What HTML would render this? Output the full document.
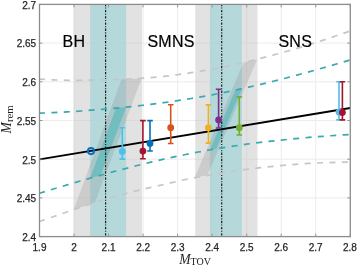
<!DOCTYPE html>
<html><head><meta charset="utf-8"><style>
html,body{margin:0;padding:0;background:#fff;}
svg{display:block;}
.tk{font-family:"Liberation Sans",sans-serif;font-size:10px;fill:#262626;stroke:#262626;stroke-width:0.25px;}
.big{font-family:"Liberation Sans",sans-serif;font-size:16px;fill:#000;stroke:#000;stroke-width:0.2px;letter-spacing:0.3px;}
.ml{font-family:"Liberation Serif",serif;font-size:13.6px;fill:#1e1e1e;}
.sub{font-size:10px;font-style:normal;}
.sub2{font-size:10.8px;font-style:normal;}
</style></head><body>
<svg width="357" height="267" viewBox="0 0 357 267">
<rect width="357" height="267" fill="#fff"/>
<path d="M74.03,4.4 V236.60 M108.56,4.4 V236.60 M143.09,4.4 V236.60 M177.62,4.4 V236.60 M212.15,4.4 V236.60 M246.68,4.4 V236.60 M281.21,4.4 V236.60 M315.74,4.4 V236.60 M39.5,197.90 H350.27 M39.5,159.20 H350.27 M39.5,120.50 H350.27 M39.5,81.80 H350.27 M39.5,43.10 H350.27" stroke="#ececec" stroke-width="1" fill="none"/>
<rect x="73.68" y="4.4" width="68.30" height="232.20" fill="#c1c1c1" fill-opacity="0.47"/>
<rect x="90.16" y="4.4" width="35.95" height="232.20" fill="#add7d9" fill-opacity="0.85"/>
<rect x="195.26" y="4.4" width="62.19" height="232.20" fill="#c1c1c1" fill-opacity="0.47"/>
<rect x="209.91" y="4.4" width="32.04" height="232.20" fill="#add7d9" fill-opacity="0.85"/>
<path d="M73.69,209.68 L74.01,208.82 L74.32,207.96 L74.64,207.10 L74.95,206.24 L75.27,205.39 L75.58,204.53 L75.90,203.67 L76.21,202.81 L76.53,201.95 L76.84,201.09 L77.15,200.23 L77.47,199.37 L77.78,198.51 L78.10,197.65 L78.41,196.79 L78.73,195.94 L79.04,195.08 L79.36,194.22 L79.67,193.36 L79.99,192.50 L80.30,191.64 L80.62,190.78 L80.93,189.92 L81.25,189.06 L81.56,188.20 L81.87,187.34 L82.19,186.49 L82.50,185.63 L82.82,184.77 L83.13,183.91 L83.45,183.05 L83.76,182.19 L84.08,181.33 L84.39,180.47 L84.71,179.61 L85.02,178.75 L85.34,177.89 L85.65,177.04 L85.97,176.18 L86.28,175.32 L86.59,174.46 L86.91,173.60 L87.22,172.74 L87.54,171.88 L87.85,171.02 L88.17,170.16 L88.48,169.30 L88.80,168.44 L89.11,167.59 L89.43,166.73 L89.74,165.87 L90.06,165.01 L90.37,164.15 L90.69,163.29 L91.00,162.43 L91.31,161.57 L91.63,160.71 L91.94,159.85 L92.26,158.99 L92.57,158.14 L92.89,157.28 L93.20,156.42 L93.52,155.56 L93.83,154.70 L94.15,153.84 L94.46,152.98 L94.78,152.12 L95.09,151.26 L95.41,150.40 L95.72,149.54 L96.03,148.69 L96.35,147.83 L96.66,146.97 L96.98,146.11 L97.29,145.25 L97.61,144.39 L97.92,143.53 L98.24,142.67 L98.55,141.81 L98.87,140.95 L99.18,140.09 L99.50,139.24 L99.81,138.38 L100.13,137.52 L100.44,136.66 L100.75,135.80 L101.07,134.94 L101.38,134.08 L101.70,133.22 L102.01,132.36 L102.33,131.50 L102.64,130.64 L102.96,129.79 L103.27,128.93 L103.59,128.07 L103.90,127.21 L104.22,126.35 L104.53,125.49 L104.85,124.63 L105.16,123.77 L105.47,122.91 L105.79,122.05 L106.10,121.19 L106.42,120.33 L106.73,119.48 L107.05,118.62 L107.36,117.76 L107.68,116.90 L107.99,116.04 L108.31,115.18 L108.62,114.32 L108.94,113.46 L109.25,112.60 L109.57,111.74 L109.88,110.88 L110.19,110.03 L110.51,109.17 L110.82,108.31 L111.14,107.45 L111.45,106.59 L111.77,105.73 L112.08,104.87 L112.40,104.01 L112.71,103.15 L113.03,102.29 L113.34,101.43 L113.66,100.58 L113.97,99.72 L114.29,98.86 L114.60,98.00 L114.91,97.14 L115.23,96.28 L115.54,95.42 L115.86,94.56 L116.17,93.70 L116.49,92.84 L116.80,91.98 L117.12,91.13 L117.43,90.27 L117.75,89.41 L118.06,88.55 L118.38,87.69 L118.69,86.83 L119.01,85.97 L119.32,85.11 L119.64,84.25 L119.95,83.39 L120.26,82.53 L120.58,81.68 L120.89,80.82 L121.21,79.96 L121.52,79.36 L121.84,79.34 L122.15,79.33 L122.47,79.32 L122.78,79.30 L123.10,79.29 L123.41,79.28 L123.73,79.26 L124.04,79.25 L124.36,79.24 L124.67,79.22 L124.98,79.21 L125.30,79.20 L125.61,79.18 L125.93,79.17 L126.24,79.16 L126.56,79.14 L126.87,79.13 L127.19,79.11 L127.50,79.10 L127.82,79.08 L128.13,79.07 L128.45,79.05 L128.76,79.04 L129.08,79.02 L129.39,79.01 L129.70,78.99 L130.02,78.98 L130.33,78.96 L130.65,78.95 L130.96,78.93 L131.28,78.91 L131.59,78.90 L131.91,78.88 L132.22,78.86 L132.54,78.85 L132.85,78.83 L133.17,78.81 L133.48,78.80 L133.80,78.78 L134.11,78.76 L134.42,78.75 L134.74,78.73 L135.05,78.71 L135.37,78.69 L135.68,78.68 L136.00,78.66 L136.31,78.64 L136.63,78.62 L136.94,78.60 L137.26,78.58 L137.57,78.56 L137.89,78.55 L138.20,78.53 L138.52,78.51 L138.83,78.49 L139.14,78.47 L139.46,78.45 L139.77,78.43 L140.09,78.41 L140.40,78.39 L140.72,78.37 L141.03,78.35 L141.35,78.33 L141.66,78.31 L141.66,78.33 L141.35,79.17 L141.03,80.01 L140.72,80.84 L140.40,81.68 L140.09,82.51 L139.77,83.35 L139.46,84.19 L139.14,85.02 L138.83,85.86 L138.52,86.70 L138.20,87.53 L137.89,88.37 L137.57,89.21 L137.26,90.04 L136.94,90.88 L136.63,91.72 L136.31,92.55 L136.00,93.39 L135.68,94.23 L135.37,95.06 L135.05,95.90 L134.74,96.74 L134.42,97.57 L134.11,98.41 L133.80,99.25 L133.48,100.08 L133.17,100.92 L132.85,101.76 L132.54,102.59 L132.22,103.43 L131.91,104.27 L131.59,105.10 L131.28,105.94 L130.96,106.78 L130.65,107.61 L130.33,108.45 L130.02,109.29 L129.70,110.12 L129.39,110.96 L129.08,111.80 L128.76,112.63 L128.45,113.47 L128.13,114.31 L127.82,115.14 L127.50,115.98 L127.19,116.82 L126.87,117.65 L126.56,118.49 L126.24,119.33 L125.93,120.16 L125.61,121.00 L125.30,121.83 L124.98,122.67 L124.67,123.51 L124.36,124.34 L124.04,125.18 L123.73,126.02 L123.41,126.85 L123.10,127.69 L122.78,128.53 L122.47,129.36 L122.15,130.20 L121.84,131.04 L121.52,131.87 L121.21,132.71 L120.89,133.55 L120.58,134.38 L120.26,135.22 L119.95,136.06 L119.64,136.89 L119.32,137.73 L119.01,138.57 L118.69,139.40 L118.38,140.24 L118.06,141.08 L117.75,141.91 L117.43,142.75 L117.12,143.59 L116.80,144.42 L116.49,145.26 L116.17,146.10 L115.86,146.93 L115.54,147.77 L115.23,148.61 L114.91,149.44 L114.60,150.28 L114.29,151.12 L113.97,151.95 L113.66,152.79 L113.34,153.63 L113.03,154.46 L112.71,155.30 L112.40,156.14 L112.08,156.97 L111.77,157.81 L111.45,158.65 L111.14,159.48 L110.82,160.32 L110.51,161.16 L110.19,161.99 L109.88,162.83 L109.57,163.66 L109.25,164.50 L108.94,165.34 L108.62,166.17 L108.31,167.01 L107.99,167.85 L107.68,168.68 L107.36,169.52 L107.05,170.36 L106.73,171.19 L106.42,172.03 L106.10,172.87 L105.79,173.70 L105.47,174.54 L105.16,175.38 L104.85,176.21 L104.53,177.05 L104.22,177.89 L103.90,178.72 L103.59,179.56 L103.27,180.40 L102.96,181.23 L102.64,182.07 L102.33,182.91 L102.01,183.74 L101.70,184.58 L101.38,185.42 L101.07,186.25 L100.75,187.09 L100.44,187.93 L100.13,188.76 L99.81,189.60 L99.50,190.44 L99.18,191.27 L98.87,192.11 L98.55,192.95 L98.24,193.78 L97.92,194.62 L97.61,195.46 L97.29,196.29 L96.98,197.13 L96.66,197.97 L96.35,198.80 L96.03,199.64 L95.72,200.48 L95.41,201.31 L95.09,202.15 L94.78,202.55 L94.46,202.66 L94.15,202.76 L93.83,202.86 L93.52,202.97 L93.20,203.07 L92.89,203.17 L92.57,203.28 L92.26,203.38 L91.94,203.49 L91.63,203.59 L91.31,203.69 L91.00,203.80 L90.69,203.90 L90.37,204.01 L90.06,204.11 L89.74,204.22 L89.43,204.32 L89.11,204.43 L88.80,204.54 L88.48,204.64 L88.17,204.75 L87.85,204.85 L87.54,204.96 L87.22,205.07 L86.91,205.17 L86.59,205.28 L86.28,205.38 L85.97,205.49 L85.65,205.60 L85.34,205.70 L85.02,205.81 L84.71,205.92 L84.39,206.03 L84.08,206.13 L83.76,206.24 L83.45,206.35 L83.13,206.45 L82.82,206.56 L82.50,206.67 L82.19,206.78 L81.87,206.88 L81.56,206.99 L81.25,207.10 L80.93,207.21 L80.62,207.32 L80.30,207.42 L79.99,207.53 L79.67,207.64 L79.36,207.75 L79.04,207.85 L78.73,207.96 L78.41,208.07 L78.10,208.18 L77.78,208.29 L77.47,208.40 L77.15,208.50 L76.84,208.61 L76.53,208.72 L76.21,208.83 L75.90,208.94 L75.58,209.04 L75.27,209.15 L74.95,209.26 L74.64,209.37 L74.32,209.48 L74.01,209.58 L73.69,209.69Z" fill="#808080" fill-opacity="0.22"/>
<path d="M90.29,177.83 L90.47,177.34 L90.65,176.86 L90.83,176.37 L91.01,175.88 L91.18,175.40 L91.36,174.91 L91.54,174.43 L91.72,173.94 L91.90,173.45 L92.08,172.97 L92.26,172.48 L92.44,171.99 L92.62,171.51 L92.80,171.02 L92.98,170.54 L93.16,170.05 L93.34,169.56 L93.52,169.08 L93.70,168.59 L93.87,168.11 L94.05,167.62 L94.23,167.13 L94.41,166.65 L94.59,166.16 L94.77,165.68 L94.95,165.19 L95.13,164.70 L95.31,164.22 L95.49,163.73 L95.67,163.25 L95.85,162.76 L96.03,162.27 L96.21,161.79 L96.38,161.30 L96.56,160.81 L96.74,160.33 L96.92,159.84 L97.10,159.36 L97.28,158.87 L97.46,158.38 L97.64,157.90 L97.82,157.41 L98.00,156.93 L98.18,156.44 L98.36,155.95 L98.54,155.47 L98.72,154.98 L98.89,154.50 L99.07,154.01 L99.25,153.52 L99.43,153.04 L99.61,152.55 L99.79,152.07 L99.97,151.58 L100.15,151.09 L100.33,150.61 L100.51,150.12 L100.69,149.63 L100.87,149.15 L101.05,148.66 L101.23,148.18 L101.40,147.69 L101.58,147.20 L101.76,146.72 L101.94,146.23 L102.12,145.75 L102.30,145.26 L102.48,144.77 L102.66,144.29 L102.84,143.80 L103.02,143.32 L103.20,142.83 L103.38,142.34 L103.56,141.86 L103.74,141.37 L103.91,140.89 L104.09,140.40 L104.27,139.91 L104.45,139.43 L104.63,138.94 L104.81,138.45 L104.99,137.97 L105.17,137.48 L105.35,137.00 L105.53,136.51 L105.71,136.02 L105.89,135.54 L106.07,135.05 L106.25,134.57 L106.43,134.08 L106.60,133.59 L106.78,133.11 L106.96,132.62 L107.14,132.14 L107.32,131.65 L107.50,131.16 L107.68,130.68 L107.86,130.19 L108.04,129.71 L108.22,129.22 L108.40,128.73 L108.58,128.25 L108.76,127.76 L108.94,127.27 L109.11,126.79 L109.29,126.30 L109.47,125.82 L109.65,125.33 L109.83,124.84 L110.01,124.36 L110.19,123.87 L110.37,123.39 L110.55,122.90 L110.73,122.41 L110.91,121.93 L111.09,121.44 L111.27,120.96 L111.45,120.47 L111.62,119.98 L111.80,119.50 L111.98,119.01 L112.16,118.52 L112.34,118.04 L112.52,117.55 L112.70,117.07 L112.88,116.58 L113.06,116.09 L113.24,115.61 L113.42,115.12 L113.60,114.64 L113.78,114.15 L113.96,113.66 L114.13,113.18 L114.31,112.69 L114.49,112.21 L114.67,111.72 L114.85,111.23 L115.03,110.75 L115.21,110.26 L115.39,109.78 L115.57,109.29 L115.75,108.80 L115.93,108.32 L116.11,108.09 L116.29,108.08 L116.47,108.06 L116.64,108.04 L116.82,108.03 L117.00,108.01 L117.18,107.99 L117.36,107.97 L117.54,107.96 L117.72,107.94 L117.90,107.92 L118.08,107.91 L118.26,107.89 L118.44,107.87 L118.62,107.85 L118.80,107.84 L118.98,107.82 L119.16,107.80 L119.33,107.78 L119.51,107.77 L119.69,107.75 L119.87,107.73 L120.05,107.71 L120.23,107.70 L120.41,107.68 L120.59,107.66 L120.77,107.64 L120.95,107.63 L121.13,107.61 L121.31,107.59 L121.49,107.57 L121.67,107.56 L121.84,107.54 L122.02,107.52 L122.20,107.50 L122.38,107.48 L122.56,107.47 L122.74,107.45 L122.92,107.43 L123.10,107.41 L123.28,107.40 L123.46,107.38 L123.64,107.36 L123.82,107.34 L124.00,107.32 L124.18,107.31 L124.35,107.29 L124.53,107.27 L124.71,107.25 L124.89,107.23 L125.07,107.21 L125.25,107.20 L125.43,107.18 L125.61,107.16 L125.79,107.14 L125.97,107.12 L125.97,107.47 L125.79,107.94 L125.61,108.42 L125.43,108.90 L125.25,109.38 L125.07,109.86 L124.89,110.34 L124.71,110.82 L124.53,111.30 L124.35,111.78 L124.18,112.26 L124.00,112.74 L123.82,113.22 L123.64,113.70 L123.46,114.18 L123.28,114.66 L123.10,115.14 L122.92,115.62 L122.74,116.10 L122.56,116.58 L122.38,117.06 L122.20,117.54 L122.02,118.02 L121.84,118.50 L121.67,118.98 L121.49,119.46 L121.31,119.94 L121.13,120.42 L120.95,120.90 L120.77,121.38 L120.59,121.86 L120.41,122.34 L120.23,122.82 L120.05,123.30 L119.87,123.78 L119.69,124.26 L119.51,124.74 L119.33,125.22 L119.16,125.69 L118.98,126.17 L118.80,126.65 L118.62,127.13 L118.44,127.61 L118.26,128.09 L118.08,128.57 L117.90,129.05 L117.72,129.53 L117.54,130.01 L117.36,130.49 L117.18,130.97 L117.00,131.45 L116.82,131.93 L116.64,132.41 L116.47,132.89 L116.29,133.37 L116.11,133.85 L115.93,134.33 L115.75,134.81 L115.57,135.29 L115.39,135.77 L115.21,136.25 L115.03,136.73 L114.85,137.21 L114.67,137.69 L114.49,138.17 L114.31,138.65 L114.13,139.13 L113.96,139.61 L113.78,140.09 L113.60,140.57 L113.42,141.05 L113.24,141.53 L113.06,142.01 L112.88,142.49 L112.70,142.96 L112.52,143.44 L112.34,143.92 L112.16,144.40 L111.98,144.88 L111.80,145.36 L111.62,145.84 L111.45,146.32 L111.27,146.80 L111.09,147.28 L110.91,147.76 L110.73,148.24 L110.55,148.72 L110.37,149.20 L110.19,149.68 L110.01,150.16 L109.83,150.64 L109.65,151.12 L109.47,151.60 L109.29,152.08 L109.11,152.56 L108.94,153.04 L108.76,153.52 L108.58,154.00 L108.40,154.48 L108.22,154.96 L108.04,155.44 L107.86,155.92 L107.68,156.40 L107.50,156.88 L107.32,157.36 L107.14,157.84 L106.96,158.32 L106.78,158.80 L106.60,159.28 L106.43,159.76 L106.25,160.23 L106.07,160.71 L105.89,161.19 L105.71,161.67 L105.53,162.15 L105.35,162.63 L105.17,163.11 L104.99,163.59 L104.81,164.07 L104.63,164.55 L104.45,165.03 L104.27,165.51 L104.09,165.99 L103.91,166.47 L103.74,166.95 L103.56,167.43 L103.38,167.91 L103.20,168.39 L103.02,168.87 L102.84,169.35 L102.66,169.83 L102.48,170.31 L102.30,170.79 L102.12,171.27 L101.94,171.75 L101.76,172.23 L101.58,172.71 L101.40,173.19 L101.23,173.67 L101.05,174.15 L100.87,174.63 L100.69,175.11 L100.51,175.27 L100.33,175.32 L100.15,175.37 L99.97,175.42 L99.79,175.47 L99.61,175.52 L99.43,175.57 L99.25,175.62 L99.07,175.67 L98.89,175.72 L98.72,175.77 L98.54,175.82 L98.36,175.87 L98.18,175.92 L98.00,175.97 L97.82,176.03 L97.64,176.08 L97.46,176.13 L97.28,176.18 L97.10,176.23 L96.92,176.28 L96.74,176.33 L96.56,176.38 L96.38,176.43 L96.21,176.48 L96.03,176.53 L95.85,176.58 L95.67,176.63 L95.49,176.68 L95.31,176.73 L95.13,176.78 L94.95,176.83 L94.77,176.88 L94.59,176.93 L94.41,176.98 L94.23,177.03 L94.05,177.08 L93.87,177.13 L93.70,177.18 L93.52,177.24 L93.34,177.29 L93.16,177.34 L92.98,177.39 L92.80,177.44 L92.62,177.49 L92.44,177.54 L92.26,177.59 L92.08,177.64 L91.90,177.69 L91.72,177.74 L91.54,177.79 L91.36,177.84 L91.18,177.90 L91.01,177.95 L90.83,178.00 L90.65,178.05 L90.47,178.10 L90.29,178.15Z" fill="#33b5b5" fill-opacity="0.46"/>
<path d="M194.70,177.63 L194.99,176.95 L195.28,176.27 L195.57,175.58 L195.86,174.90 L196.15,174.22 L196.44,173.53 L196.73,172.85 L197.02,172.17 L197.30,171.48 L197.59,170.80 L197.88,170.12 L198.17,169.44 L198.46,168.75 L198.75,168.07 L199.04,167.39 L199.33,166.70 L199.62,166.02 L199.91,165.34 L200.20,164.66 L200.48,163.97 L200.77,163.29 L201.06,162.61 L201.35,161.92 L201.64,161.24 L201.93,160.56 L202.22,159.87 L202.51,159.19 L202.80,158.51 L203.09,157.83 L203.38,157.14 L203.66,156.46 L203.95,155.78 L204.24,155.09 L204.53,154.41 L204.82,153.73 L205.11,153.04 L205.40,152.36 L205.69,151.68 L205.98,151.00 L206.27,150.31 L206.56,149.63 L206.84,148.95 L207.13,148.26 L207.42,147.58 L207.71,146.90 L208.00,146.21 L208.29,145.53 L208.58,144.85 L208.87,144.17 L209.16,143.48 L209.45,142.80 L209.74,142.12 L210.03,141.43 L210.31,140.75 L210.60,140.07 L210.89,139.39 L211.18,138.70 L211.47,138.02 L211.76,137.34 L212.05,136.65 L212.34,135.97 L212.63,135.29 L212.92,134.60 L213.21,133.92 L213.49,133.24 L213.78,132.56 L214.07,131.87 L214.36,131.19 L214.65,130.51 L214.94,129.82 L215.23,129.14 L215.52,128.46 L215.81,127.77 L216.10,127.09 L216.39,126.41 L216.67,125.73 L216.96,125.04 L217.25,124.36 L217.54,123.68 L217.83,122.99 L218.12,122.31 L218.41,121.63 L218.70,120.94 L218.99,120.26 L219.28,119.58 L219.57,118.90 L219.85,118.21 L220.14,117.53 L220.43,116.85 L220.72,116.16 L221.01,115.48 L221.30,114.80 L221.59,114.12 L221.88,113.43 L222.17,112.75 L222.46,112.07 L222.75,111.38 L223.03,110.70 L223.32,110.02 L223.61,109.33 L223.90,108.65 L224.19,107.97 L224.48,107.29 L224.77,106.60 L225.06,105.92 L225.35,105.24 L225.64,104.55 L225.93,103.87 L226.21,103.19 L226.50,102.50 L226.79,101.82 L227.08,101.14 L227.37,100.46 L227.66,99.77 L227.95,99.09 L228.24,98.41 L228.53,97.72 L228.82,97.04 L229.11,96.36 L229.39,95.67 L229.68,94.99 L229.97,94.31 L230.26,93.63 L230.55,92.94 L230.84,92.26 L231.13,91.58 L231.42,90.89 L231.71,90.21 L232.00,89.53 L232.29,88.85 L232.57,88.16 L232.86,87.48 L233.15,86.80 L233.44,86.11 L233.73,85.43 L234.02,84.75 L234.31,84.06 L234.60,83.38 L234.89,82.70 L235.18,82.02 L235.47,81.33 L235.75,80.65 L236.04,79.97 L236.33,79.28 L236.62,78.60 L236.91,77.92 L237.20,77.23 L237.49,76.55 L237.78,75.87 L238.07,75.19 L238.36,74.50 L238.65,73.82 L238.93,73.14 L239.22,72.45 L239.51,71.77 L239.80,71.09 L240.09,70.40 L240.38,69.72 L240.67,69.04 L240.96,68.36 L241.25,67.67 L241.54,66.99 L241.83,66.31 L242.11,65.62 L242.40,64.94 L242.69,64.26 L242.98,63.58 L243.27,62.89 L243.56,62.62 L243.85,62.55 L244.14,62.48 L244.43,62.42 L244.72,62.35 L245.01,62.28 L245.30,62.21 L245.58,62.14 L245.87,62.07 L246.16,62.00 L246.45,61.93 L246.74,61.86 L247.03,61.79 L247.32,61.72 L247.61,61.65 L247.90,61.58 L248.19,61.51 L248.48,61.44 L248.76,61.37 L249.05,61.30 L249.34,61.23 L249.63,61.16 L249.92,61.09 L250.21,61.02 L250.50,60.94 L250.79,60.87 L251.08,60.80 L251.37,60.73 L251.66,60.66 L251.94,60.59 L252.23,60.52 L252.52,60.44 L252.81,60.37 L253.10,60.30 L253.39,60.23 L253.68,60.16 L253.97,60.08 L254.26,60.01 L254.55,59.94 L254.84,59.87 L255.12,59.79 L255.41,59.72 L255.70,59.65 L255.99,59.57 L256.28,59.50 L256.57,59.43 L256.86,59.35 L257.15,59.28 L257.15,59.46 L256.86,60.14 L256.57,60.81 L256.28,61.48 L255.99,62.16 L255.70,62.83 L255.41,63.50 L255.12,64.18 L254.84,64.85 L254.55,65.52 L254.26,66.20 L253.97,66.87 L253.68,67.54 L253.39,68.22 L253.10,68.89 L252.81,69.56 L252.52,70.24 L252.23,70.91 L251.94,71.58 L251.66,72.26 L251.37,72.93 L251.08,73.60 L250.79,74.28 L250.50,74.95 L250.21,75.62 L249.92,76.30 L249.63,76.97 L249.34,77.64 L249.05,78.32 L248.76,78.99 L248.48,79.66 L248.19,80.34 L247.90,81.01 L247.61,81.68 L247.32,82.36 L247.03,83.03 L246.74,83.70 L246.45,84.37 L246.16,85.05 L245.87,85.72 L245.58,86.39 L245.30,87.07 L245.01,87.74 L244.72,88.41 L244.43,89.09 L244.14,89.76 L243.85,90.43 L243.56,91.11 L243.27,91.78 L242.98,92.45 L242.69,93.13 L242.40,93.80 L242.11,94.47 L241.83,95.15 L241.54,95.82 L241.25,96.49 L240.96,97.17 L240.67,97.84 L240.38,98.51 L240.09,99.19 L239.80,99.86 L239.51,100.53 L239.22,101.21 L238.93,101.88 L238.65,102.55 L238.36,103.23 L238.07,103.90 L237.78,104.57 L237.49,105.25 L237.20,105.92 L236.91,106.59 L236.62,107.27 L236.33,107.94 L236.04,108.61 L235.75,109.29 L235.47,109.96 L235.18,110.63 L234.89,111.31 L234.60,111.98 L234.31,112.65 L234.02,113.33 L233.73,114.00 L233.44,114.67 L233.15,115.34 L232.86,116.02 L232.57,116.69 L232.29,117.36 L232.00,118.04 L231.71,118.71 L231.42,119.38 L231.13,120.06 L230.84,120.73 L230.55,121.40 L230.26,122.08 L229.97,122.75 L229.68,123.42 L229.39,124.10 L229.11,124.77 L228.82,125.44 L228.53,126.12 L228.24,126.79 L227.95,127.46 L227.66,128.14 L227.37,128.81 L227.08,129.48 L226.79,130.16 L226.50,130.83 L226.21,131.50 L225.93,132.18 L225.64,132.85 L225.35,133.52 L225.06,134.20 L224.77,134.87 L224.48,135.54 L224.19,136.22 L223.90,136.89 L223.61,137.56 L223.32,138.24 L223.03,138.91 L222.75,139.58 L222.46,140.26 L222.17,140.93 L221.88,141.60 L221.59,142.28 L221.30,142.95 L221.01,143.62 L220.72,144.30 L220.43,144.97 L220.14,145.64 L219.85,146.31 L219.57,146.99 L219.28,147.66 L218.99,148.33 L218.70,149.01 L218.41,149.68 L218.12,150.35 L217.83,151.03 L217.54,151.70 L217.25,152.37 L216.96,153.05 L216.67,153.72 L216.39,154.39 L216.10,155.07 L215.81,155.74 L215.52,156.41 L215.23,157.09 L214.94,157.76 L214.65,158.43 L214.36,159.11 L214.07,159.78 L213.78,160.45 L213.49,161.13 L213.21,161.80 L212.92,162.47 L212.63,163.15 L212.34,163.82 L212.05,164.49 L211.76,165.17 L211.47,165.84 L211.18,166.51 L210.89,167.19 L210.60,167.86 L210.31,168.53 L210.03,169.21 L209.74,169.88 L209.45,170.55 L209.16,171.23 L208.87,171.90 L208.58,172.57 L208.29,173.25 L208.00,173.92 L207.71,174.59 L207.42,175.27 L207.13,175.39 L206.84,175.44 L206.56,175.49 L206.27,175.54 L205.98,175.60 L205.69,175.65 L205.40,175.70 L205.11,175.75 L204.82,175.80 L204.53,175.86 L204.24,175.91 L203.95,175.96 L203.66,176.02 L203.38,176.07 L203.09,176.12 L202.80,176.17 L202.51,176.23 L202.22,176.28 L201.93,176.33 L201.64,176.39 L201.35,176.44 L201.06,176.50 L200.77,176.55 L200.48,176.60 L200.20,176.66 L199.91,176.71 L199.62,176.77 L199.33,176.82 L199.04,176.88 L198.75,176.93 L198.46,176.99 L198.17,177.04 L197.88,177.10 L197.59,177.15 L197.30,177.21 L197.02,177.26 L196.73,177.32 L196.44,177.38 L196.15,177.43 L195.86,177.49 L195.57,177.54 L195.28,177.60 L194.99,177.66 L194.70,177.71Z" fill="#808080" fill-opacity="0.22"/>
<path d="M210.04,149.61 L210.20,149.23 L210.36,148.84 L210.53,148.46 L210.69,148.08 L210.85,147.69 L211.02,147.31 L211.18,146.93 L211.34,146.54 L211.50,146.16 L211.67,145.78 L211.83,145.39 L211.99,145.01 L212.16,144.63 L212.32,144.24 L212.48,143.86 L212.65,143.48 L212.81,143.09 L212.97,142.71 L213.13,142.33 L213.30,141.94 L213.46,141.56 L213.62,141.18 L213.79,140.79 L213.95,140.41 L214.11,140.03 L214.28,139.64 L214.44,139.26 L214.60,138.87 L214.76,138.49 L214.93,138.11 L215.09,137.72 L215.25,137.34 L215.42,136.96 L215.58,136.57 L215.74,136.19 L215.90,135.81 L216.07,135.42 L216.23,135.04 L216.39,134.66 L216.56,134.27 L216.72,133.89 L216.88,133.51 L217.05,133.12 L217.21,132.74 L217.37,132.36 L217.53,131.97 L217.70,131.59 L217.86,131.21 L218.02,130.82 L218.19,130.44 L218.35,130.06 L218.51,129.67 L218.68,129.29 L218.84,128.91 L219.00,128.52 L219.16,128.14 L219.33,127.76 L219.49,127.37 L219.65,126.99 L219.82,126.61 L219.98,126.22 L220.14,125.84 L220.31,125.46 L220.47,125.07 L220.63,124.69 L220.79,124.31 L220.96,123.92 L221.12,123.54 L221.28,123.16 L221.45,122.77 L221.61,122.39 L221.77,122.01 L221.93,121.62 L222.10,121.24 L222.26,120.86 L222.42,120.47 L222.59,120.09 L222.75,119.71 L222.91,119.32 L223.08,118.94 L223.24,118.56 L223.40,118.17 L223.56,117.79 L223.73,117.41 L223.89,117.02 L224.05,116.64 L224.22,116.26 L224.38,115.87 L224.54,115.49 L224.71,115.10 L224.87,114.72 L225.03,114.34 L225.19,113.95 L225.36,113.57 L225.52,113.19 L225.68,112.80 L225.85,112.42 L226.01,112.04 L226.17,111.65 L226.33,111.27 L226.50,110.89 L226.66,110.50 L226.82,110.12 L226.99,109.74 L227.15,109.35 L227.31,108.97 L227.48,108.59 L227.64,108.20 L227.80,107.82 L227.96,107.44 L228.13,107.05 L228.29,106.67 L228.45,106.29 L228.62,105.90 L228.78,105.52 L228.94,105.14 L229.11,104.75 L229.27,104.37 L229.43,103.99 L229.59,103.60 L229.76,103.22 L229.92,102.84 L230.08,102.45 L230.25,102.07 L230.41,101.69 L230.57,101.30 L230.74,100.92 L230.90,100.54 L231.06,100.15 L231.22,99.77 L231.39,99.39 L231.55,99.00 L231.71,98.62 L231.88,98.24 L232.04,97.85 L232.20,97.47 L232.36,97.09 L232.53,96.70 L232.69,96.32 L232.85,95.94 L233.02,95.55 L233.18,95.17 L233.34,94.79 L233.51,94.40 L233.67,94.02 L233.83,93.64 L233.99,93.25 L234.16,92.87 L234.32,92.49 L234.48,92.10 L234.65,91.72 L234.81,91.34 L234.97,90.95 L235.14,90.57 L235.30,90.18 L235.46,90.09 L235.62,90.06 L235.79,90.02 L235.95,89.99 L236.11,89.95 L236.28,89.92 L236.44,89.88 L236.60,89.85 L236.76,89.81 L236.93,89.78 L237.09,89.74 L237.25,89.71 L237.42,89.67 L237.58,89.63 L237.74,89.60 L237.91,89.56 L238.07,89.53 L238.23,89.49 L238.39,89.46 L238.56,89.42 L238.72,89.39 L238.88,89.35 L239.05,89.32 L239.21,89.28 L239.37,89.24 L239.54,89.21 L239.70,89.17 L239.86,89.14 L240.02,89.10 L240.19,89.07 L240.35,89.03 L240.51,88.99 L240.68,88.96 L240.84,88.92 L241.00,88.89 L241.17,88.85 L241.33,88.82 L241.49,88.78 L241.65,88.74 L241.82,88.71 L241.82,88.99 L241.65,89.37 L241.49,89.75 L241.33,90.13 L241.17,90.51 L241.00,90.89 L240.84,91.27 L240.68,91.65 L240.51,92.03 L240.35,92.41 L240.19,92.79 L240.02,93.18 L239.86,93.56 L239.70,93.94 L239.54,94.32 L239.37,94.70 L239.21,95.08 L239.05,95.46 L238.88,95.84 L238.72,96.22 L238.56,96.60 L238.39,96.98 L238.23,97.36 L238.07,97.74 L237.91,98.12 L237.74,98.51 L237.58,98.89 L237.42,99.27 L237.25,99.65 L237.09,100.03 L236.93,100.41 L236.76,100.79 L236.60,101.17 L236.44,101.55 L236.28,101.93 L236.11,102.31 L235.95,102.69 L235.79,103.07 L235.62,103.45 L235.46,103.84 L235.30,104.22 L235.14,104.60 L234.97,104.98 L234.81,105.36 L234.65,105.74 L234.48,106.12 L234.32,106.50 L234.16,106.88 L233.99,107.26 L233.83,107.64 L233.67,108.02 L233.51,108.40 L233.34,108.78 L233.18,109.16 L233.02,109.55 L232.85,109.93 L232.69,110.31 L232.53,110.69 L232.36,111.07 L232.20,111.45 L232.04,111.83 L231.88,112.21 L231.71,112.59 L231.55,112.97 L231.39,113.35 L231.22,113.73 L231.06,114.11 L230.90,114.49 L230.74,114.88 L230.57,115.26 L230.41,115.64 L230.25,116.02 L230.08,116.40 L229.92,116.78 L229.76,117.16 L229.59,117.54 L229.43,117.92 L229.27,118.30 L229.11,118.68 L228.94,119.06 L228.78,119.44 L228.62,119.82 L228.45,120.21 L228.29,120.59 L228.13,120.97 L227.96,121.35 L227.80,121.73 L227.64,122.11 L227.48,122.49 L227.31,122.87 L227.15,123.25 L226.99,123.63 L226.82,124.01 L226.66,124.39 L226.50,124.77 L226.33,125.15 L226.17,125.54 L226.01,125.92 L225.85,126.30 L225.68,126.68 L225.52,127.06 L225.36,127.44 L225.19,127.82 L225.03,128.20 L224.87,128.58 L224.71,128.96 L224.54,129.34 L224.38,129.72 L224.22,130.10 L224.05,130.48 L223.89,130.86 L223.73,131.25 L223.56,131.63 L223.40,132.01 L223.24,132.39 L223.08,132.77 L222.91,133.15 L222.75,133.53 L222.59,133.91 L222.42,134.29 L222.26,134.67 L222.10,135.05 L221.93,135.43 L221.77,135.81 L221.61,136.19 L221.45,136.58 L221.28,136.96 L221.12,137.34 L220.96,137.72 L220.79,138.10 L220.63,138.48 L220.47,138.86 L220.31,139.24 L220.14,139.62 L219.98,140.00 L219.82,140.38 L219.65,140.76 L219.49,141.14 L219.33,141.52 L219.16,141.91 L219.00,142.29 L218.84,142.67 L218.68,143.05 L218.51,143.43 L218.35,143.81 L218.19,144.19 L218.02,144.57 L217.86,144.95 L217.70,145.33 L217.53,145.71 L217.37,146.09 L217.21,146.47 L217.05,146.85 L216.88,147.24 L216.72,147.62 L216.56,148.00 L216.39,148.38 L216.23,148.76 L216.07,148.86 L215.90,148.89 L215.74,148.91 L215.58,148.94 L215.42,148.97 L215.25,149.00 L215.09,149.02 L214.93,149.05 L214.76,149.08 L214.60,149.11 L214.44,149.14 L214.28,149.16 L214.11,149.19 L213.95,149.22 L213.79,149.25 L213.62,149.27 L213.46,149.30 L213.30,149.33 L213.13,149.36 L212.97,149.39 L212.81,149.42 L212.65,149.44 L212.48,149.47 L212.32,149.50 L212.16,149.53 L211.99,149.56 L211.83,149.58 L211.67,149.61 L211.50,149.64 L211.34,149.67 L211.18,149.70 L211.02,149.73 L210.85,149.76 L210.69,149.78 L210.53,149.81 L210.36,149.84 L210.20,149.87 L210.04,149.90Z" fill="#33b5b5" fill-opacity="0.46"/>
<line x1="105.59" y1="4.4" x2="105.59" y2="236.60" stroke="#1a1a1a" stroke-width="1.2" stroke-dasharray="2.35 1.4 1.05 1.4" stroke-dashoffset="0.62"/>
<line x1="221.71" y1="4.4" x2="221.71" y2="236.60" stroke="#1a1a1a" stroke-width="1.2" stroke-dasharray="2.35 1.4 1.05 1.4" stroke-dashoffset="0.62"/>
<path d="M39.50,79.11 L46.41,79.51 L53.31,79.84 L60.22,80.12 L67.12,80.29 L74.03,80.31 L80.94,80.26 L87.84,80.17 L94.75,80.08 L101.65,79.96 L108.56,79.80 L115.47,79.58 L122.37,79.32 L129.28,79.01 L136.18,78.65 L143.09,78.21 L150.00,77.70 L156.90,77.10 L163.81,76.40 L170.71,75.60 L177.62,74.71 L184.53,73.73 L191.43,72.68 L198.34,71.57 L205.24,70.41 L212.15,69.18 L219.06,67.88 L225.96,66.51 L232.87,65.05 L239.77,63.51 L246.68,61.88 L253.59,60.18 L260.49,58.43 L267.40,56.63 L274.30,54.79 L281.21,52.90 L288.12,50.95 L295.02,48.94 L301.93,46.87 L308.83,44.74 L315.74,42.56 L322.65,40.33 L329.55,38.05 L336.46,35.73 L343.36,33.36 L350.27,30.95" stroke="#c6c6c6" stroke-width="1.7" fill="none" stroke-dasharray="6.1 6.3" stroke-dashoffset="0.5"/>
<path d="M39.50,221.44 L46.41,219.05 L53.31,216.68 L60.22,214.31 L67.12,211.94 L74.03,209.58 L80.94,207.21 L87.84,204.86 L94.75,202.56 L101.65,200.36 L108.56,198.30 L115.47,196.36 L122.37,194.49 L129.28,192.67 L136.18,190.94 L143.09,189.26 L150.00,187.62 L156.90,186.04 L163.81,184.47 L170.71,182.84 L177.62,181.28 L184.53,179.79 L191.43,178.36 L198.34,177.01 L205.24,175.73 L212.15,174.52 L219.06,173.38 L225.96,172.31 L232.87,171.31 L239.77,170.33 L246.68,169.38 L253.59,168.49 L260.49,167.67 L267.40,166.92 L274.30,166.21 L281.21,165.55 L288.12,164.92 L295.02,164.30 L301.93,163.79 L308.83,163.39 L315.74,163.05 L322.65,162.77 L329.55,162.54 L336.46,162.35 L343.36,162.21 L350.27,162.11" stroke="#c6c6c6" stroke-width="1.7" fill="none" stroke-dasharray="6.1 6.3" stroke-dashoffset="0.5"/>
<path d="M39.50,113.22 L46.41,112.92 L53.31,112.61 L60.22,112.27 L67.12,111.90 L74.03,111.49 L80.94,111.01 L87.84,110.50 L94.75,109.96 L101.65,109.39 L108.56,108.79 L115.47,108.15 L122.37,107.49 L129.28,106.78 L136.18,106.04 L143.09,105.25 L150.00,104.42 L156.90,103.55 L163.81,102.63 L170.71,101.67 L177.62,100.65 L184.53,99.58 L191.43,98.47 L198.34,97.29 L205.24,96.07 L212.15,94.79 L219.06,93.46 L225.96,92.08 L232.87,90.64 L239.77,89.16 L246.68,87.62 L253.59,86.04 L260.49,84.41 L267.40,82.73 L274.30,81.02 L281.21,79.26 L288.12,77.46 L295.02,75.63 L301.93,73.76 L308.83,71.86 L315.74,69.93 L322.65,67.97 L329.55,65.98 L336.46,63.96 L343.36,61.93 L350.27,59.87" stroke="#3aa9b0" stroke-width="1.7" fill="none" stroke-dasharray="6.1 6.3" stroke-dashoffset="0.5"/>
<path d="M39.50,193.25 L46.41,191.13 L53.31,189.03 L60.22,186.95 L67.12,184.89 L74.03,182.85 L80.94,180.84 L87.84,178.85 L94.75,176.89 L101.65,174.96 L108.56,173.06 L115.47,171.19 L122.37,169.35 L129.28,167.56 L136.18,165.80 L143.09,164.08 L150.00,162.41 L156.90,160.78 L163.81,159.20 L170.71,157.66 L177.62,156.18 L184.53,154.74 L191.43,153.36 L198.34,152.03 L205.24,150.75 L212.15,149.53 L219.06,148.36 L225.96,147.24 L232.87,146.17 L239.77,145.16 L246.68,144.19 L253.59,143.27 L260.49,142.40 L267.40,141.58 L274.30,140.79 L281.21,140.05 L288.12,139.34 L295.02,138.68 L301.93,138.04 L308.83,137.44 L315.74,136.87 L322.65,136.33 L329.55,135.82 L336.46,135.33 L343.36,134.87 L350.27,134.43" stroke="#3aa9b0" stroke-width="1.7" fill="none" stroke-dasharray="6.1 6.3" stroke-dashoffset="0.5"/>
<path d="M39.50,159.40 L350.27,108.01" stroke="#000" stroke-width="1.9"/>
<circle cx="91.0" cy="151.1" r="3.1" fill="none" stroke="#0072BD" stroke-width="1.9"/>
<path d="M122.3,127.8 V159.1 M119.5,127.8 h5.6 M119.5,159.1 h5.6" stroke="#4DBEEE" stroke-width="1.6" fill="none"/><circle cx="122.3" cy="151.4" r="3.4" fill="#4DBEEE"/>
<path d="M142.9,120.6 V158.8 M140.1,120.6 h5.6 M140.1,158.8 h5.6" stroke="#A2142F" stroke-width="1.6" fill="none"/><circle cx="142.9" cy="151.1" r="3.4" fill="#A2142F"/>
<path d="M150.0,120.6 V151.0 M147.2,120.6 h5.6 M147.2,151.0 h5.6" stroke="#0072BD" stroke-width="1.6" fill="none"/><circle cx="150.0" cy="143.5" r="3.4" fill="#0072BD"/>
<path d="M170.7,104.8 V143.5 M167.89999999999998,104.8 h5.6 M167.89999999999998,143.5 h5.6" stroke="#D95319" stroke-width="1.6" fill="none"/><circle cx="170.7" cy="127.7" r="3.4" fill="#D95319"/>
<path d="M208.4,104.9 V143.1 M205.6,104.9 h5.6 M205.6,143.1 h5.6" stroke="#EDB120" stroke-width="1.6" fill="none"/><circle cx="208.4" cy="127.8" r="3.4" fill="#EDB120"/>
<path d="M218.6,89.3 V128.0 M215.79999999999998,89.3 h5.6 M215.79999999999998,128.0 h5.6" stroke="#7E2F8E" stroke-width="1.6" fill="none"/><circle cx="218.6" cy="119.9" r="3.4" fill="#7E2F8E"/>
<path d="M239.3,96.9 V135.0 M236.5,96.9 h5.6 M236.5,135.0 h5.6" stroke="#77AC30" stroke-width="1.6" fill="none"/><circle cx="239.3" cy="127.7" r="3.4" fill="#77AC30"/>
<path d="M339.0,81.7 V119.9 M336.2,81.7 h5.6 M336.2,119.9 h5.6" stroke="#4DBEEE" stroke-width="1.6" fill="none"/><circle cx="339.0" cy="112.1" r="3.4" fill="#4DBEEE"/>
<path d="M342.4,81.7 V119.9 M339.59999999999997,81.7 h5.6 M339.59999999999997,119.9 h5.6" stroke="#A2142F" stroke-width="1.6" fill="none"/><circle cx="342.4" cy="112.5" r="3.4" fill="#A2142F"/>
<path d="M39.50,236.60 v-3 M39.50,4.4 v3 M74.03,236.60 v-3 M74.03,4.4 v3 M108.56,236.60 v-3 M108.56,4.4 v3 M143.09,236.60 v-3 M143.09,4.4 v3 M177.62,236.60 v-3 M177.62,4.4 v3 M212.15,236.60 v-3 M212.15,4.4 v3 M246.68,236.60 v-3 M246.68,4.4 v3 M281.21,236.60 v-3 M281.21,4.4 v3 M315.74,236.60 v-3 M315.74,4.4 v3 M350.27,236.60 v-3 M350.27,4.4 v3 M39.5,236.60 h3 M350.27,236.60 h-3 M39.5,197.90 h3 M350.27,197.90 h-3 M39.5,159.20 h3 M350.27,159.20 h-3 M39.5,120.50 h3 M350.27,120.50 h-3 M39.5,81.80 h3 M350.27,81.80 h-3 M39.5,43.10 h3 M350.27,43.10 h-3 M39.5,4.40 h3 M350.27,4.40 h-3" stroke="#8c8c8c" stroke-width="0.9" fill="none"/>
<rect x="39.5" y="4.4" width="310.77" height="232.20" fill="none" stroke="#8c8c8c" stroke-width="1.3"/>
<g style="opacity:0.999;will-change:transform">
<text x="39.50" y="250.6" text-anchor="middle" class="tk">1.9</text>
<text x="74.03" y="250.6" text-anchor="middle" class="tk">2</text>
<text x="108.56" y="250.6" text-anchor="middle" class="tk">2.1</text>
<text x="143.09" y="250.6" text-anchor="middle" class="tk">2.2</text>
<text x="177.62" y="250.6" text-anchor="middle" class="tk">2.3</text>
<text x="212.15" y="250.6" text-anchor="middle" class="tk">2.4</text>
<text x="246.68" y="250.6" text-anchor="middle" class="tk">2.5</text>
<text x="281.21" y="250.6" text-anchor="middle" class="tk">2.6</text>
<text x="315.74" y="250.6" text-anchor="middle" class="tk">2.7</text>
<text x="349.9" y="250.6" text-anchor="middle" class="tk">2.8</text>
<text x="36.2" y="240.90" text-anchor="end" class="tk">2.4</text>
<text x="36.2" y="202.20" text-anchor="end" class="tk">2.45</text>
<text x="36.2" y="163.50" text-anchor="end" class="tk">2.5</text>
<text x="36.2" y="124.80" text-anchor="end" class="tk">2.55</text>
<text x="36.2" y="86.10" text-anchor="end" class="tk">2.6</text>
<text x="36.2" y="47.40" text-anchor="end" class="tk">2.65</text>
<text x="36.2" y="8.70" text-anchor="end" class="tk">2.7</text>
<text x="62.6" y="46.9" class="big">BH</text>
<text x="147.4" y="46.9" class="big">SMNS</text>
<text x="278.4" y="46.9" class="big">SNS</text>
<text x="179.2" y="264.1" class="ml"><tspan font-style="italic">M</tspan><tspan class="sub" dy="1.0">TOV</tspan></text>
<text transform="translate(11.1,133.4) rotate(-90)" class="ml"><tspan font-style="italic">M</tspan><tspan class="sub2" dy="1.6">rem</tspan></text>
</g>
</svg>
</body></html>
